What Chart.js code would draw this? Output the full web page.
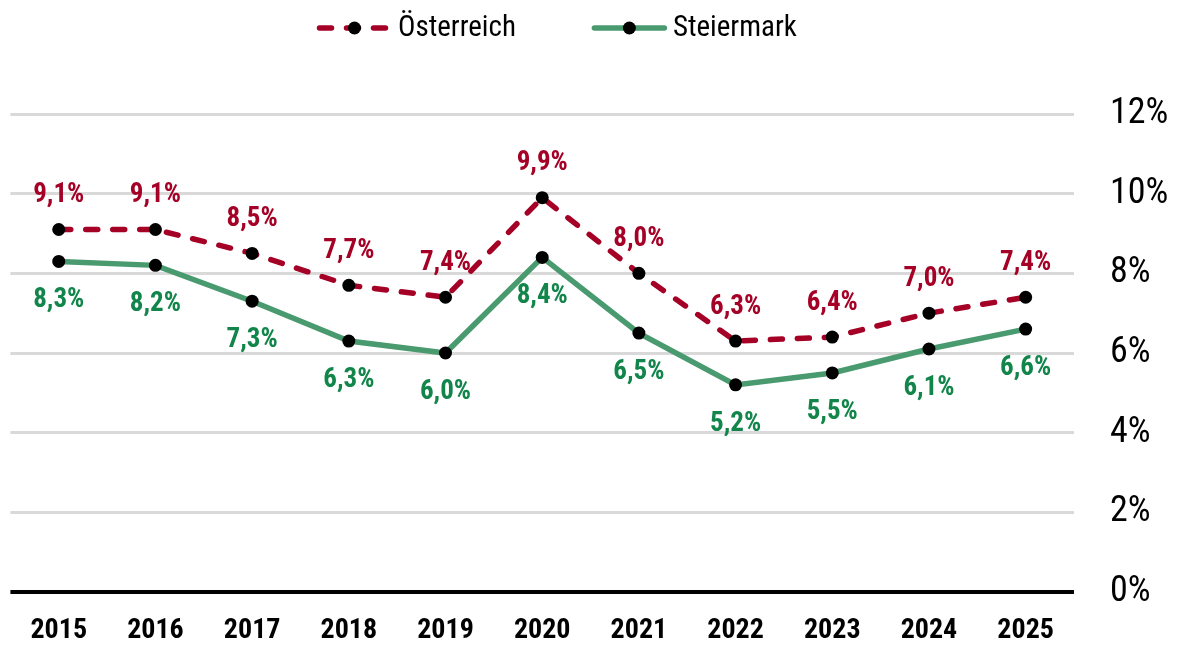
<!DOCTYPE html>
<html>
<head>
<meta charset="utf-8">
<script src="https://cdn.jsdelivr.net/npm/chart.js@4/dist/chart.umd.min.js"></script>
<style>
  html, body { margin: 0; padding: 0; background: #ffffff; }
  #wrap { width: 1180px; height: 646px; }
</style>
</head>
<body>
<div id="wrap"><canvas id="c" width="1180" height="646"></canvas></div>
<script>
// ---- Data ----
const years = ['2015','2016','2017','2018','2019','2020','2021','2022','2023','2024','2025'];
const oesterreich = [9.1, 9.1, 8.5, 7.7, 7.4, 9.9, 8.0, 6.3, 6.4, 7.0, 7.4];
const steiermark  = [8.3, 8.2, 7.3, 6.3, 6.0, 8.4, 6.5, 5.2, 5.5, 6.1, 6.6];
const seriesNames = ['Österreich', 'Steiermark'];
const yTicks = [0, 2, 4, 6, 8, 10, 12];

// ---- Styles ----
const FONT = "'Liberation Sans Narrow', 'Arial Narrow', 'Roboto Condensed', 'DejaVu Sans Condensed', 'Liberation Sans', sans-serif";
const RED_LINE = '#A50026';
const RED_TEXT = '#A50026';
const GREEN_LINE = '#4A9A70';
const GREEN_TEXT = '#12854B';

function fmt(v) { return v.toFixed(1).replace('.', ',') + '%'; }

const dataLabelPlugin = {
  id: 'dataLabels',
  afterDatasetsDraw(chart) {
    const ctx = chart.ctx;
    ctx.save();
    ctx.font = "bold 27px " + FONT;
    ctx.textAlign = 'center';
    ctx.textBaseline = 'middle';
    chart.data.datasets.forEach((ds, i) => {
      const meta = chart.getDatasetMeta(i);
      const off = ds.labelOffset;
      ctx.fillStyle = ds.labelColor;
      meta.data.forEach((pt, j) => {
        ctx.fillText(fmt(ds.data[j]), pt.x, pt.y + off);
      });
    });
    ctx.restore();
  }
};

const legendPlugin = {
  id: 'customLegend',
  afterDraw(chart) {
    const ctx = chart.ctx;
    ctx.save();
    ctx.font = "29px " + FONT;
    ctx.textBaseline = 'middle';
    ctx.textAlign = 'left';
    const cy = 28;
    let x = 317;
    const symW = 75, gapText = 6, gapItem = 76;
    chart.data.datasets.forEach((ds) => {
      ctx.save();
      ctx.strokeStyle = ds.borderColor;
      ctx.lineWidth = ds.borderWidth;
      ctx.lineCap = ds.borderCapStyle || 'butt';
      ctx.setLineDash(ds.borderDash || []);
      ctx.beginPath();
      ctx.moveTo(x + 2.5, cy);
      ctx.lineTo(x + symW - 2.5, cy);
      ctx.stroke();
      ctx.setLineDash([]);
      ctx.fillStyle = ds.pointBackgroundColor;
      ctx.beginPath();
      ctx.arc(x + symW / 2, cy, ds.pointRadius, 0, Math.PI * 2);
      ctx.fill();
      ctx.restore();
      ctx.fillStyle = '#000000';
      const tx = x + symW + gapText;
      ctx.fillText(ds.label, tx, cy + 1);
      x = tx + ctx.measureText(ds.label).width + gapItem;
    });
    ctx.restore();
  }
};

new Chart(document.getElementById('c'), {
  type: 'line',
  data: {
    labels: years,
    datasets: [
      {
        label: seriesNames[0],
        data: oesterreich,
        borderColor: RED_LINE,
        borderWidth: 5.5,
        borderDash: [12, 15],
        borderCapStyle: 'round',
        pointRadius: 6.5,
        pointHoverRadius: 6.5,
        pointBackgroundColor: '#000000',
        pointBorderWidth: 0,
        tension: 0,
        labelColor: RED_TEXT,
        labelOffset: -34
      },
      {
        label: seriesNames[1],
        data: steiermark,
        borderColor: GREEN_LINE,
        borderWidth: 5.5,
        borderCapStyle: 'round',
        pointRadius: 6.5,
        pointHoverRadius: 6.5,
        pointBackgroundColor: '#000000',
        pointBorderWidth: 0,
        tension: 0,
        labelColor: GREEN_TEXT,
        labelOffset: 39
      }
    ]
  },
  options: {
    responsive: false,
    animation: false,
    devicePixelRatio: 1,
    layout: { padding: { top: 114, left: 10.4, right: 0, bottom: 0 } },
    plugins: {
      legend: { display: false },
      tooltip: { enabled: false }
    },
    scales: {
      x: {
        offset: true,
        grid: { display: false, drawTicks: false },
        border: { display: false },
        ticks: {
          padding: 22,
          color: '#000000',
          font: { family: FONT, size: 28, weight: 'bold' }
        },
        afterFit(s) { s.height = 54; }
      },
      y: {
        position: 'right',
        min: 0,
        max: 12,
        afterBuildTicks(s) { s.ticks = yTicks.map(v => ({ value: v })); },
        grid: {
          drawTicks: false,
          color: (c) => (c.tick && c.tick.value === 0) ? '#000000' : '#D9D9D9',
          lineWidth: (c) => (c.tick && c.tick.value === 0) ? 4 : 3
        },
        border: { display: false },
        ticks: {
          padding: 36,
          color: '#000000',
          font: { family: FONT, size: 36, lineHeight: 1 },
          callback: (v) => v + '%'
        },
        afterFit(s) { s.width = 106; }
      }
    }
  },
  plugins: [dataLabelPlugin, legendPlugin]
});
</script>
</body>
</html>
